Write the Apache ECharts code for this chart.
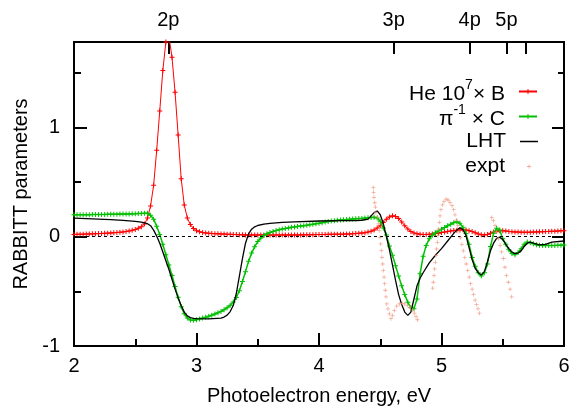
<!DOCTYPE html>
<html><head><meta charset="utf-8">
<script src="https://cdn.jsdelivr.net/npm/echarts@6/dist/echarts.min.js"></script>
<style>html,body{margin:0;padding:0;background:#fff}#c{width:573px;height:416px}</style>
</head><body><div id="c"></div>
<script>
// ---- axis / tick values ----
const xMajorTicks = [2, 3, 4, 5, 6];
const xMinorTicks = [2.5, 3.5, 4.5, 5.5];
const yMajorTicks = [-1, 0, 1];
const yMinorTicks = [-0.5, 0.5, 1.5];
const stateTickE = [2.77, 4.61, 5.23, 5.53, 5.69];
const stateLabelE = [2.77, 4.61, 5.23, 5.53];
const stateLabels = ['2p', '3p', '4p', '5p'];

// ---- He 10^7 x B (red) ----
const heB = [
[2.000,0.020],[2.025,0.021],[2.050,0.022],[2.075,0.023],[2.100,0.024],[2.125,0.025],[2.150,0.026],[2.175,0.027],
[2.200,0.028],[2.225,0.029],[2.250,0.030],[2.275,0.032],[2.300,0.034],[2.325,0.036],[2.350,0.038],[2.375,0.040],
[2.400,0.043],[2.425,0.047],[2.450,0.052],[2.475,0.058],[2.500,0.066],[2.525,0.076],[2.550,0.090],[2.575,0.115],
[2.600,0.17],[2.625,0.28],[2.650,0.47],[2.675,0.79],[2.700,1.15],[2.725,1.52],[2.750,1.78],[2.775,1.83],
[2.800,1.64],[2.825,1.32],[2.850,0.93],[2.875,0.53],[2.900,0.29],[2.925,0.17],[2.950,0.11],[2.975,0.075],
[3.000,0.055],[3.025,0.045],[3.050,0.038],[3.075,0.034],[3.100,0.031],[3.125,0.029],[3.150,0.027],[3.175,0.026],
[3.200,0.025],[3.225,0.024],[3.250,0.022],[3.275,0.021],[3.300,0.020],[3.325,0.019],[3.350,0.018],[3.375,0.017],
[3.400,0.016],[3.425,0.015],[3.450,0.015],[3.475,0.015],[3.500,0.015],[3.525,0.015],[3.550,0.015],[3.575,0.015],
[3.600,0.015],[3.625,0.015],[3.650,0.015],[3.675,0.015],[3.700,0.015],[3.725,0.015],[3.750,0.015],[3.775,0.015],
[3.800,0.015],[3.825,0.016],[3.850,0.016],[3.875,0.017],[3.900,0.017],[3.925,0.018],[3.950,0.018],[3.975,0.019],
[4.000,0.019],[4.025,0.020],[4.050,0.020],[4.075,0.021],[4.100,0.021],[4.125,0.022],[4.150,0.022],[4.175,0.023],
[4.200,0.023],[4.225,0.024],[4.250,0.025],[4.275,0.027],[4.300,0.029],[4.325,0.031],[4.350,0.033],[4.375,0.036],
[4.400,0.042],[4.425,0.050],[4.450,0.060],[4.475,0.078],[4.500,0.100],[4.525,0.130],[4.550,0.160],[4.575,0.180],
[4.600,0.190],[4.625,0.185],[4.650,0.165],[4.675,0.135],[4.700,0.100],[4.725,0.070],[4.750,0.047],[4.775,0.033],
[4.800,0.026],[4.825,0.022],[4.850,0.020],[4.875,0.020],[4.900,0.021],[4.925,0.024],[4.950,0.028],[4.975,0.032],
[5.000,0.037],[5.025,0.042],[5.050,0.047],[5.075,0.052],[5.100,0.056],[5.125,0.059],[5.150,0.061],[5.175,0.062],
[5.200,0.060],[5.225,0.055],[5.250,0.047],[5.275,0.036],[5.300,0.025],[5.325,0.018],[5.350,0.016],[5.375,0.020],
[5.400,0.030],[5.425,0.042],[5.450,0.050],[5.475,0.055],[5.500,0.055],[5.525,0.052],[5.550,0.048],[5.575,0.045],
[5.600,0.043],[5.625,0.042],[5.650,0.041],[5.675,0.040],[5.700,0.040],[5.725,0.041],[5.750,0.042],[5.775,0.043],
[5.800,0.044],[5.825,0.045],[5.850,0.046],[5.875,0.048],[5.900,0.049],[5.925,0.050],[5.950,0.052],[5.975,0.053],
[6.000,0.055]
];

// ---- pi^-1 x C (green) ----
const piC = [
[2.000,0.200],[2.025,0.200],[2.050,0.201],[2.075,0.200],[2.100,0.201],[2.125,0.201],[2.150,0.202],[2.175,0.202],
[2.200,0.202],[2.225,0.203],[2.250,0.203],[2.275,0.204],[2.300,0.204],[2.325,0.205],[2.350,0.205],[2.375,0.206],
[2.400,0.206],[2.425,0.207],[2.450,0.208],[2.475,0.209],[2.500,0.210],[2.525,0.211],[2.550,0.212],[2.575,0.214],
[2.600,0.215],[2.625,0.195],[2.650,0.160],[2.675,0.095],[2.700,0.020],[2.725,-0.070],[2.750,-0.165],[2.775,-0.260],
[2.800,-0.355],[2.825,-0.455],[2.850,-0.555],[2.875,-0.640],[2.900,-0.705],[2.925,-0.745],[2.950,-0.762],[2.975,-0.765],
[3.000,-0.760],[3.025,-0.752],[3.050,-0.745],[3.075,-0.737],[3.100,-0.728],[3.125,-0.718],[3.150,-0.708],[3.175,-0.697],
[3.200,-0.684],[3.225,-0.668],[3.250,-0.650],[3.275,-0.628],[3.300,-0.598],[3.325,-0.556],[3.350,-0.495],[3.375,-0.410],
[3.400,-0.320],[3.425,-0.225],[3.450,-0.150],[3.475,-0.092],[3.500,-0.045],[3.525,-0.012],[3.550,0.010],[3.575,0.026],
[3.600,0.038],[3.625,0.048],[3.650,0.056],[3.675,0.063],[3.700,0.069],[3.725,0.075],[3.750,0.080],[3.775,0.085],
[3.800,0.089],[3.825,0.093],[3.850,0.097],[3.875,0.100],[3.900,0.104],[3.925,0.108],[3.950,0.113],[3.975,0.118],
[4.000,0.123],[4.025,0.128],[4.050,0.133],[4.075,0.138],[4.100,0.142],[4.125,0.146],[4.150,0.149],[4.175,0.152],
[4.200,0.155],[4.225,0.157],[4.250,0.159],[4.275,0.161],[4.300,0.163],[4.325,0.165],[4.350,0.167],[4.375,0.170],
[4.400,0.172],[4.425,0.175],[4.450,0.178],[4.475,0.170],[4.500,0.140],[4.525,0.080],[4.550,0.015],[4.575,-0.085],
[4.600,-0.170],[4.625,-0.265],[4.650,-0.360],[4.675,-0.450],[4.700,-0.530],[4.725,-0.600],[4.750,-0.650],[4.775,-0.660],
[4.800,-0.570],[4.825,-0.340],[4.850,-0.180],[4.875,-0.080],[4.900,-0.020],[4.925,0.012],[4.950,0.035],[4.975,0.052],
[5.000,0.068],[5.025,0.084],[5.050,0.099],[5.075,0.114],[5.100,0.128],[5.125,0.137],[5.150,0.122],[5.175,0.085],
[5.200,0.028],[5.225,-0.070],[5.250,-0.190],[5.275,-0.270],[5.300,-0.330],[5.325,-0.360],[5.350,-0.330],[5.375,-0.250],
[5.400,-0.090],[5.425,0.030],[5.450,0.076],[5.475,0.060],[5.500,-0.020],[5.525,-0.070],[5.550,-0.120],[5.575,-0.155],
[5.600,-0.165],[5.625,-0.145],[5.650,-0.110],[5.675,-0.070],[5.700,-0.050],[5.725,-0.055],[5.750,-0.065],[5.775,-0.074],
[5.800,-0.079],[5.825,-0.080],[5.850,-0.081],[5.875,-0.081],[5.900,-0.080],[5.925,-0.080],[5.950,-0.079],[5.975,-0.078],
[6.000,-0.076]
];

// ---- LHT (black line) ----
const lht = [
[2.0,0.17],[2.1,0.165],[2.2,0.16],[2.3,0.155],[2.4,0.148],[2.5,0.14],[2.55,0.132],[2.6,0.118],[2.625,0.10],
[2.65,0.06],[2.675,0.005],[2.7,-0.06],[2.725,-0.14],[2.75,-0.22],[2.775,-0.30],[2.8,-0.39],[2.825,-0.48],
[2.85,-0.56],[2.875,-0.63],[2.9,-0.69],[2.925,-0.725],[2.95,-0.74],[2.975,-0.747],[3.0,-0.75],[3.1,-0.752],
[3.2,-0.745],[3.225,-0.735],[3.25,-0.718],[3.275,-0.685],[3.3,-0.63],[3.325,-0.52],[3.35,-0.36],[3.375,-0.20],
[3.4,-0.06],[3.425,0.025],[3.45,0.068],[3.475,0.09],[3.5,0.102],[3.55,0.115],[3.6,0.122],[3.7,0.13],[3.8,0.136],
[4.0,0.143],[4.2,0.146],[4.3,0.147],[4.35,0.15],[4.4,0.16],[4.425,0.19],[4.45,0.22],[4.475,0.235],[4.5,0.20],
[4.525,0.12],[4.55,0.0],[4.575,-0.12],[4.6,-0.26],[4.625,-0.40],[4.65,-0.53],[4.675,-0.62],[4.7,-0.69],
[4.725,-0.72],[4.75,-0.69],[4.775,-0.57],[4.8,-0.45],[4.825,-0.38],[4.85,-0.33],[4.9,-0.24],[4.95,-0.17],
[5.0,-0.11],[5.05,-0.04],[5.1,0.03],[5.125,0.06],[5.15,0.08],[5.175,0.065],[5.2,0.01],[5.225,-0.10],[5.25,-0.21],
[5.275,-0.29],[5.3,-0.33],[5.325,-0.35],[5.35,-0.32],[5.375,-0.23],[5.4,-0.13],[5.425,-0.06],[5.45,-0.015],
[5.475,-0.005],[5.5,-0.025],[5.525,-0.07],[5.55,-0.11],[5.575,-0.14],[5.6,-0.155],[5.625,-0.15],[5.65,-0.13],
[5.675,-0.09],[5.7,-0.06],[5.725,-0.05],[5.75,-0.06],[5.8,-0.075],[5.85,-0.07],[5.9,-0.05],[6.0,-0.04]
];

// ---- expt (salmon dots) ----
const expt = [
[4.443,0.45],[4.446,0.405],[4.449,0.36],[4.455,0.31],[4.46,0.27],[4.465,0.22],[4.476,0.18],[4.484,0.116],
[4.492,0.055],[4.498,-0.006],[4.503,-0.067],[4.509,-0.128],[4.514,-0.189],[4.52,-0.25],[4.525,-0.31],[4.531,-0.37],
[4.536,-0.43],[4.541,-0.49],[4.547,-0.55],[4.553,-0.615],[4.563,-0.66],[4.574,-0.706],[4.588,-0.75],[4.6,-0.72],
[4.615,-0.676],[4.634,-0.636],[4.656,-0.615],[4.678,-0.61],[4.699,-0.615],[4.721,-0.63],[4.743,-0.645],[4.762,-0.67],
[4.778,-0.70],[4.792,-0.73],[4.803,-0.76],
[4.928,-0.47],[4.933,-0.417],[4.939,-0.356],[4.944,-0.295],[4.95,-0.235],[4.955,-0.174],[4.96,-0.113],[4.966,-0.052],
[4.971,0.009],[4.977,0.07],[4.982,0.131],[4.988,0.19],[4.996,0.247],[5.007,0.29],[5.02,0.32],[5.037,0.344],
[5.053,0.335],[5.069,0.313],[5.086,0.283],[5.099,0.247],[5.11,0.20],[5.121,0.152],[5.132,0.10],[5.143,0.046],
[5.154,-0.01],[5.166,-0.07],[5.178,-0.13],[5.19,-0.19],[5.202,-0.25],[5.214,-0.31],[5.226,-0.37],[5.238,-0.43],
[5.25,-0.48],[5.262,-0.53],[5.274,-0.58],[5.286,-0.62],[5.298,-0.66],[5.31,-0.70],
[5.41,0.176],[5.423,0.146],[5.437,0.10],[5.45,0.04],[5.464,-0.02],[5.478,-0.08],[5.49,-0.14],[5.505,-0.20],
[5.518,-0.28],[5.53,-0.356],[5.545,-0.417],[5.56,-0.48],[5.573,-0.55]
];

const FONT = '"Liberation Sans", Arial, Helvetica, sans-serif';
const FS = 20;
const LFS = 21;
const PLUS = 'path://M4,0H6V4H10V6H6V10H4V6H0V4H4Z';
const X_MIN = 2, X_MAX = 6, Y_MIN = -1, Y_MAX = 1.78;

function xAxisDef(pos, ticks, len, labels, extra) {
  return Object.assign({
    type: 'value', position: pos, min: X_MIN, max: X_MAX,
    axisLine: { show: true, onZero: false, lineStyle: { color: '#000', width: 2 } },
    axisTick: { show: true, inside: true, length: len, customValues: ticks, lineStyle: { color: '#000', width: 2 } },
    axisLabel: labels ? Object.assign({ show: true, color: '#000', fontSize: FS, fontFamily: FONT }, labels) : { show: false },
    splitLine: { show: false }
  }, extra || {});
}
function yAxisDef(pos, ticks, len, labels, extra) {
  return Object.assign({
    type: 'value', position: pos, min: Y_MIN, max: Y_MAX,
    axisLine: { show: true, onZero: false, lineStyle: { color: '#000', width: 2 } },
    axisTick: { show: true, inside: true, length: len, customValues: ticks, lineStyle: { color: '#000', width: 2 } },
    axisLabel: labels ? Object.assign({ show: true, color: '#000', fontSize: FS, fontFamily: FONT }, labels) : { show: false },
    splitLine: { show: false }
  }, extra || {});
}

const legendCommon = {
  orient: 'vertical', align: 'right', padding: 0, selectedMode: false,
  itemWidth: 18, itemHeight: 6,
  textStyle: {
    color: '#000', fontSize: LFS, fontFamily: FONT, padding: [0, 9, 0, 0],
    rich: {
      n: { fontSize: LFS, fontFamily: FONT, color: '#000', lineHeight: 27, verticalAlign: 'bottom' },
      s: { fontSize: 14, fontFamily: FONT, color: '#000', lineHeight: 15, verticalAlign: 'top' }
    }
  }
};

const chart = echarts.init(document.getElementById('c'), null, { renderer: 'canvas' });
chart.setOption({
  animation: false,
  backgroundColor: '#fff',
  grid: { left: 74, right: 9, top: 42, bottom: 70, containLabel: false },
  xAxis: [
    xAxisDef('bottom', xMajorTicks, 13, { customValues: xMajorTicks, margin: 10 },
      { name: 'Photoelectron energy, eV', nameLocation: 'middle', nameGap: 40,
        nameTextStyle: { color: '#000', fontSize: FS, fontFamily: FONT } }),
    xAxisDef('bottom', xMinorTicks, 7, null),
    xAxisDef('top', stateTickE, 12, { customValues: stateLabelE, margin: 12,
      formatter: function (v) { const i = stateLabelE.indexOf(v); return i >= 0 ? stateLabels[i] : ''; } })
  ],
  yAxis: [
    yAxisDef('left', yMajorTicks, 13, { customValues: yMajorTicks, margin: 14 },
      { name: 'RABBITT parameters', nameLocation: 'middle', nameGap: 40,
        nameTextStyle: { color: '#000', fontSize: FS, fontFamily: FONT } }),
    yAxisDef('left', yMinorTicks, 7, null),
    yAxisDef('right', yMajorTicks, 12, null),
    yAxisDef('right', yMinorTicks, 6, null)
  ],
  legend: [
    Object.assign({}, legendCommon, { data: ['heB'], right: 35, top: 78,
      formatter: function () { return '{n|He 10}{s|7}{n|× B}'; } }),
    Object.assign({}, legendCommon, { data: ['piC'], right: 35, top: 103,
      formatter: function () { return '{n|π}{s|-1}{n| × C}'; } }),
    Object.assign({}, legendCommon, { data: [{ name: 'LHT', icon: 'rect' }], right: 35, top: 131, itemHeight: 1.5,
      formatter: function () { return 'LHT'; } }),
    Object.assign({}, legendCommon, { data: ['expt'], right: 42, top: 156, itemWidth: 4, itemHeight: 4,
      textStyle: Object.assign({}, legendCommon.textStyle, { padding: [0, 17, 0, 0] }),
      formatter: function () { return 'expt'; } })
  ],
  series: [
    { name: 'heB', type: 'line', xAxisIndex: 0, yAxisIndex: 0, data: heB, z: 2,
      symbol: PLUS, symbolSize: 5, showAllSymbol: true,
      itemStyle: { color: '#ff0000' }, lineStyle: { color: '#ff0000', width: 1 } },
    { name: 'piC', type: 'line', xAxisIndex: 0, yAxisIndex: 0, data: piC, z: 3,
      symbol: PLUS, symbolSize: 5, showAllSymbol: true,
      itemStyle: { color: '#00c000' }, lineStyle: { color: '#00c000', width: 1.5 } },
    { name: 'LHT', type: 'line', xAxisIndex: 0, yAxisIndex: 0, data: lht, z: 4,
      symbol: 'none', itemStyle: { color: '#000' }, lineStyle: { color: '#000', width: 1.3 },
      markLine: { silent: true, symbol: 'none', label: { show: false },
        lineStyle: { color: '#000', width: 1, type: [3, 3] }, data: [{ yAxis: 0 }] } },
    { name: 'expt', type: 'scatter', xAxisIndex: 0, yAxisIndex: 0, data: expt, z: 5,
      symbol: PLUS, symbolSize: 4, itemStyle: { color: '#f0947a' } }
  ]
});
</script>
</body></html>
